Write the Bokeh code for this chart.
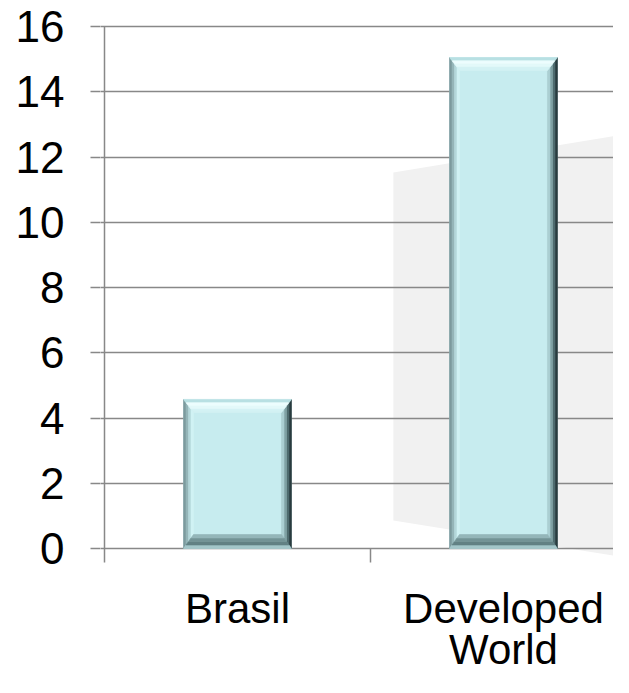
from bokeh.plotting import figure
from bokeh.models import Range1d, FixedTicker
from bokeh.core.properties import value
from bokeh.embed import file_html
from bokeh.resources import INLINE

# ---------------- data ----------------
categories = ["Brasil", "Developed World"]
category_labels = ["Brasil", "Developed\nWorld"]
values = [4.57, 15.05]
y_ticks = [0, 2, 4, 6, 8, 10, 12, 14, 16]
y_tick_labels = ["0", "2", "4", "6", "8", "10", "12", "14", "16"]

# ---------------- layout ----------------
W, H = 613, 677
PX_X = 266.0      # pixels per category slot
PX_Y = 32.625     # pixels per y unit
LEFT = 100
TOP = 20
dxu = 1.0 / PX_X
dyu = 1.0 / PX_Y

x_start = -4 * dxu
x_end = x_start + (W - LEFT) * dxu
y_end = 16 + 6 * dyu
y_start = y_end - (H - TOP) * dyu

GRID = "#888888"
FONT = "Liberation Sans"

p = figure(width=W, height=H, x_range=Range1d(x_start, x_end),
           y_range=Range1d(y_start, y_end), x_axis_location=None,
           min_border_left=LEFT, min_border_right=0, min_border_top=TOP,
           min_border_bottom=0, output_backend="svg", toolbar_location=None)
p.outline_line_color = None
p.background_fill_color = "white"

p.xgrid.visible = False
p.ygrid.ticker = FixedTicker(ticks=y_ticks)
p.ygrid.grid_line_color = GRID
p.ygrid.grid_line_width = 1.5

ax = p.yaxis[0]
ax.ticker = FixedTicker(ticks=y_ticks)
ax.major_label_overrides = {t: l for t, l in zip(y_ticks, y_tick_labels)}
ax.axis_line_color = None
ax.major_tick_out = 10
ax.major_tick_in = 0
ax.major_tick_line_color = GRID
ax.major_tick_line_width = 1.5
ax.minor_tick_out = 0
ax.minor_tick_in = 0
ax.major_label_text_font = FONT
ax.major_label_text_font_size = "44px"
ax.major_label_text_color = "black"
ax.major_label_standoff = 26

# backdrop shadow behind the second bar (decoration)
shadow_x = [1.086, 1.99, 1.99, 1.086]
shadow_y = [11.525, 12.74, -0.32, 0.858]
p.patch(shadow_x, shadow_y, fill_color="#f1f1f1", line_color=None, level="image")

# ---------------- bevelled bars ----------------
bar_w = 0.406
BX, BT, BB = 10 * dxu, 13 * dyu, 14 * dyu
center_col = "#c7ecef"
side_cols = {
    "left": ["#7c9a9d", "#95b5b8", "#b4d7da", "#d0f2f4"],
    "right": ["#2a3c3f", "#4f6b6e", "#80a2a5", "#abcfd2"],
    "top": ["#b8e0e3", "#ecfdfe", "#e3f9fa", "#d3f2f4"],
    "bottom": ["#a3c6c9", "#628184", "#739396", "#94b6b9"],
}
xs_all, ys_all, cols_all = [], [], []
lefts, rights, tops, bottoms = [], [], [], []
for i, v in enumerate(values):
    L = i + 0.5 - bar_w / 2
    R = i + 0.5 + bar_w / 2
    B = 0.0
    T = v
    lefts.append(L); rights.append(R); tops.append(T); bottoms.append(B)
    n = 4
    for k in range(n):
        t0, t1 = k / n, (k + 1) / n
        xs_all.append([L + t0 * BX, L + t1 * BX, L + t1 * BX, L + t0 * BX])
        ys_all.append([B + t0 * BB, B + t1 * BB, T - t1 * BT, T - t0 * BT])
        cols_all.append(side_cols["left"][k])
        xs_all.append([R - t0 * BX, R - t1 * BX, R - t1 * BX, R - t0 * BX])
        ys_all.append([B + t0 * BB, B + t1 * BB, T - t1 * BT, T - t0 * BT])
        cols_all.append(side_cols["right"][k])
        xs_all.append([L + t0 * BX, R - t0 * BX, R - t1 * BX, L + t1 * BX])
        ys_all.append([T - t0 * BT, T - t0 * BT, T - t1 * BT, T - t1 * BT])
        cols_all.append(side_cols["top"][k])
        xs_all.append([L + t0 * BX, R - t0 * BX, R - t1 * BX, L + t1 * BX])
        ys_all.append([B + t0 * BB, B + t0 * BB, B + t1 * BB, B + t1 * BB])
        cols_all.append(side_cols["bottom"][k])

p.quad(left=lefts, right=rights, top=tops, bottom=bottoms,
       fill_color=center_col, line_color=None)
p.patches(xs=xs_all, ys=ys_all, fill_color=cols_all, line_color=cols_all,
          line_width=0.6)

# ---------------- axis lines & category ticks ----------------
tick_len = 14 * dyu
p.segment(x0=[0], y0=[-tick_len], x1=[0], y1=[y_ticks[-1]],
          line_color=GRID, line_width=1.5)
bounds = list(range(1, len(categories) + 1))
p.segment(x0=bounds, y0=[-tick_len] * len(bounds), x1=bounds, y1=[0] * len(bounds),
          line_color=GRID, line_width=1.5)

# ---------------- category labels ----------------
base_px = 60   # first baseline offset below zero line (renderer adds ~17px)
line_px = 41
tx, ty, tt = [], [], []
for i, lab in enumerate(category_labels):
    for j, line in enumerate(lab.split("\n")):
        tx.append(i + 0.5)
        ty.append(-(base_px + j * line_px) * dyu)
        tt.append(line)
p.text(x=tx, y=ty, text=tt, text_font=value(FONT), text_font_size="42px",
       text_align="center", text_baseline="alphabetic", text_color="black")

open("out.html", "w").write(file_html(p, INLINE))
